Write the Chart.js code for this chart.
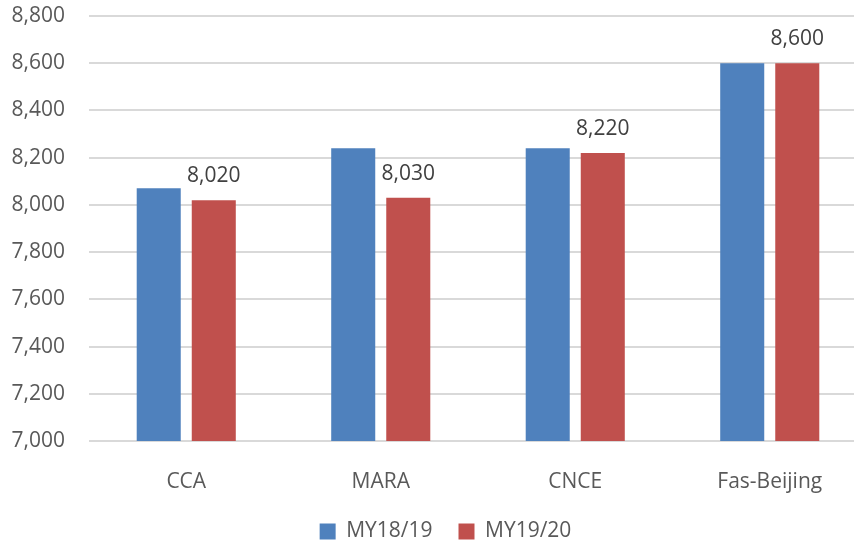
<!DOCTYPE html>
<html>
<head>
<meta charset="utf-8">
<script src="https://cdn.jsdelivr.net/npm/chart.js@4"></script>
<style>
  html, body { margin: 0; padding: 0; background: #fff; overflow: hidden; }
  #wrap { position: absolute; left: 0; top: 0; width: 870px; height: 541px; }
</style>
</head>
<body>
<div id="wrap"><canvas id="chart"></canvas></div>
<script>
const categories = ['CCA', 'MARA', 'CNCE', 'Fas-Beijing'];
const my1819 = [8070, 8240, 8240, 8600];
const my1920 = [8020, 8030, 8220, 8600];
const yMin = 7000;
const yMax = 8800;
const yStep = 200;

const FONT = '"Open Sans", sans-serif';

// value labels above the MY19/20 bars
const valueLabels = {
  id: 'valueLabels',
  afterDatasetsDraw(chart) {
    const ctx = chart.ctx;
    const meta = chart.getDatasetMeta(1);
    ctx.save();
    ctx.font = '21px ' + FONT;
    ctx.fillStyle = '#404040';
    ctx.textAlign = 'center';
    ctx.textBaseline = 'alphabetic';
    meta.data.forEach((bar, i) => {
      ctx.fillText(my1920[i].toLocaleString('en-US'), bar.x, bar.y - 18);
    });
    ctx.restore();
  }
};

// small tweak of the legend row position
const legendShift = {
  id: 'legendShift',
  afterLayout(chart) {
    const lg = chart.legend;
    if (!lg) return;
    const dx = 12, dy = -1;
    lg.left += dx;
    lg.right += dx;
    lg.top += dy;
    lg.bottom += dy;
    (lg.legendHitBoxes || []).forEach(b => { b.left += dx; b.top += dy; });
  }
};

const ctx = document.getElementById('chart').getContext('2d');
const chart = new Chart(ctx, {
  type: 'bar',
  data: {
    labels: categories,
    datasets: [
      { label: 'MY18/19', data: my1819, backgroundColor: '#4F81BD' },
      { label: 'MY19/20', data: my1920, backgroundColor: '#C0504D' }
    ]
  },
  options: {
    responsive: true,
    maintainAspectRatio: false,
    animation: false,
    categoryPercentage: 0.566,
    barPercentage: 0.8,
    layout: { padding: { top: 16, right: 3, left: 0, bottom: 0 } },
    plugins: {
      tooltip: { enabled: false },
      legend: {
        position: 'bottom',
        maxHeight: 45,
        labels: {
          font: { family: FONT, size: 21 },
          color: '#595959',
          boxWidth: 16,
          boxHeight: 16,
          padding: 26
        }
      }
    },
    scales: {
      x: {
        grid: { display: false },
        border: { display: false },
        ticks: { font: { family: FONT, size: 21 }, color: '#595959', padding: 20 },
        afterFit(scale) { scale.height = 55; }
      },
      y: {
        min: yMin,
        max: yMax,
        border: { display: false },
        grid: { color: '#D9D9D9', lineWidth: 2, drawTicks: false },
        ticks: {
          stepSize: yStep,
          padding: 24,
          font: { family: FONT, size: 21 },
          color: '#595959',
          callback: v => v.toLocaleString('en-US')
        },
        afterFit(scale) {
          scale.width = 89;
          scale.paddingTop = 0;
          scale.paddingBottom = 0;
        }
      }
    }
  },
  plugins: [valueLabels, legendShift]
});
</script>
</body>
</html>
